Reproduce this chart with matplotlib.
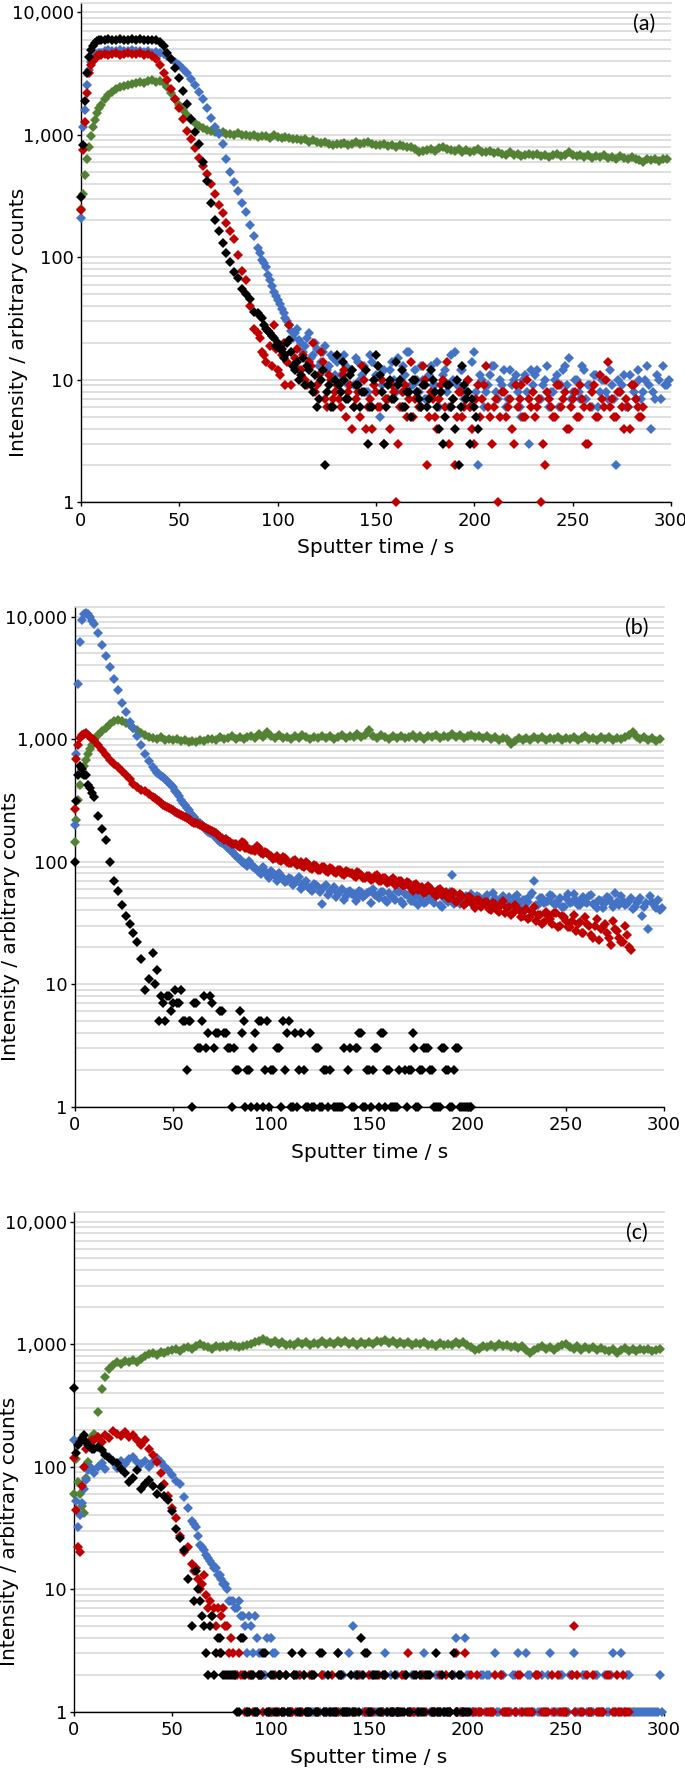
import numpy as np
import matplotlib
matplotlib.use("Agg")
import matplotlib.pyplot as plt
from matplotlib.ticker import LogLocator, FuncFormatter, NullFormatter

nan = np.nan

# sputter time grid (s): 1 s steps at the start, then 2 s steps
sputter_time = list(range(0, 10)) + list(range(10, 300, 2))
# the odd seconds, read only where the noisy tails need them
odd_time_a = list(range(91, 300, 2))
odd_time_b = list(range(41, 300, 2))
odd_time_c = list(range(61, 300, 2))

# ---- panel (a) ----
a_green = [
    250, 330, 470, 640, 800, 970, 1150, 1320, 1500, 1650,
    1750, 1950, 2100, 2250, 2350, 2450, 2500, 2550, 2600, 2650,
    2700, 2650, 2750, 2800, 2700, 2750, 2650, 2450, 2200, 1950,
    1750, 1600, 1450, 1330, 1250, 1180, 1130, 1100, 1070, 1060,
    1040, 1050, 1020, 1010, 1000, 1030, 990, 1000, 980, 1000,
    960, 980, 970, 950, 990, 960, 940, 960, 950, 930,
    920, 900, 920, 880, 900, 870, 860, 880, 840, 830,
    850, 840, 860, 830, 850, 870, 840, 860, 880, 850,
    830, 820, 840, 810, 830, 800, 820, 810, 790, 800,
    760, 720, 740, 750, 770, 740, 780, 800, 760, 750,
    740, 760, 730, 750, 720, 740, 760, 730, 720, 740,
    710, 730, 700, 690, 720, 680, 700, 670, 690, 700,
    680, 700, 670, 690, 660, 680, 700, 670, 690, 720,
    690, 670, 680, 660, 680, 650, 670, 660, 680, 650,
    660, 640, 670, 650, 630, 660, 640, 620, 600, 640,
    620, 640, 610, 630, 640]
a_blue = [
    210, 1160, 1590, 2560, 3390, 3900, 4200, 4400, 4550, 4650,
    4700, 4800, 4900, 4850, 4800, 4900, 4850, 4800, 4900, 4800,
    4850, 4750, 4800, 4700, 4750, 4650, 4600, 4400, 4200, 3900,
    3700, 3450, 3200, 2850, 2550, 2250, 1950, 1650, 1380, 1150,
    1020, 850, 640, 500, 410, 350, 280, 235, 185, 150,
    120, 95, 84, 65, 52, 45, 38, 32, 28, 22,
    26, 20, 19, 24, 16, 18, 14, 19, 13, 15,
    14, 11, 16, 9, 12, 15, 10, 13, 8, 14,
    11, 5, 12, 9, 14, 8, 10, 13, 17, 9,
    12, 8, 10, 7, 13, 9, 6, 11, 8, 16,
    17, 9, 12, 8, 6, 17, 2, 10, 8, 11,
    13, 7, 9, 6, 12, 10, 8, 5, 11, 3,
    9, 12, 7, 10, 6, 8, 11, 9, 13, 15,
    8, 10, 7, 12, 9, 6, 11, 8, 10, 7,
    9, 2, 8, 11, 6, 9, 7, 10, 8, 13,
    4, 7, 10, 13, 9]
a_blue_odd = [
    108, 90, 72, 58, 48, 42, 35, 30, 25, 24,
    21, 17, 22, 15, 20, 13, 17, 12, 16, 11,
    15, 10, 13, 12, 9, 14, 11, 8, 16, 10,
    13, 9, 7, 12, 10, 15, 8, 11, 17, 9,
    10, 13, 7, 11, 9, 14, 8, 12, 6, 10,
    9, 12, 7, 10, 14, 8, 11, 6, 9, 13,
    8, 10, 12, 7, 9, 11, 6, 10, 8, 12,
    11, 7, 9, 13, 8, 10, 6, 12, 9, 7,
    10, 8, 13, 7, 9, 11, 6, 10, 8, 12,
    7, 10, 9, 6, 11, 8, 12, 7, 10, 9,
    8, 11, 7, 9, 10]
a_red = [
    243, 750, 1280, 2200, 3200, 3700, 4000, 4200, 4400, 4500,
    4500, 4600, 4450, 4550, 4650, 4500, 4600, 4700, 4550, 4600,
    4650, 4500, 4600, 4400, 4200, 3700, 3200, 2800, 2350, 1950,
    1650, 1350, 1080, 920, 780, 650, 560, 480, 400, 330,
    270, 230, 190, 165, 140, 105, 78, 65, 40, 26,
    24, 17, 14, 19, 28, 12, 16, 9, 28, 13,
    18, 12, 10, 14, 20, 9, 17, 7, 11, 7,
    9, 6, 12, 8, 4, 7, 5, 10, 6, 4,
    8, 6, 3, 7, 9, 1, 6, 8, 5, 14,
    7, 6, 13, 2, 8, 5, 7, 10, 14, 6,
    2, 8, 5, 7, 6, 3, 9, 7, 13, 5,
    6, 1, 8, 5, 7, 3, 6, 9, 5, 7,
    8, 6, 1, 2, 7, 5, 9, 6, 8, 4,
    7, 5, 9, 6, 3, 8, 5, 11, 6, 14,
    7, 5, 8, 4, 6, 9, 7, 5, 6, nan,
    nan, nan, nan, nan, nan]
a_red_odd = [
    22, 16, 25, 13, 18, 11, 20, 14, 9, 15,
    12, 16, 9, 13, 8, 11, 14, 6, 10, 8,
    7, 11, 5, 9, 6, 8, 13, 4, 7, 9,
    6, 10, 7, 4, 8, 3, 6, 9, 7, 5,
    8, 6, 10, 5, 7, 4, 9, 6, 3, 7,
    5, 8, 6, 10, 4, 7, 5, 9, 6, 3,
    7, 5, 8, 6, 4, 9, 7, 5, 10, 6,
    5, 7, 3, 8, 6, 5, 9, 7, 4, 6,
    8, 5, 7, 3, 6, 9, 5, 7, 10, 6,
    5, 8, 6, 7, 4, 9, 6, 5, nan, nan,
    nan, nan, nan, nan, nan]
a_black = [
    310, 830, 1900, 3200, 4300, 4900, 5300, 5600, 5800, 5900,
    6000, 5900, 6050, 6000, 5950, 6100, 5900, 6000, 6050, 5950,
    6050, 6000, 5950, 6000, 5900, 5700, 5300, 4700, 4200, 3500,
    2900, 2300, 1800, 1350, 1050, 850, 600, 420, 280, 200,
    165, 130, 108, 92, 76, 68, 55, 50, 46, 36,
    35, 32, 26, 24, 22, 20, 18, 16, 21, 13,
    14, 11, 9, 12, 8, 6, 10, 2, 9, 6,
    16, 8, 10, 7, 12, 9, 6, 8, 3, 6,
    16, 11, 3, 9, 7, 14, 10, 6, 8, 5,
    10, 7, 9, 6, 12, 8, 4, 3, 9, 6,
    4, 2, 13, 7, 3, 6, 4, nan, nan, nan] + [nan] * 45
a_black_odd = [
    33, 28, 25, 23, 19, 18, 15, 20, 17, 12,
    10, 15, 13, 9, 11, 7, 12, 8, 6, 10,
    9, 14, 7, 11, 6, 9, 8, 12, 6, 10,
    13, 8, 6, 10, 7, 9, 12, 6, 8, 10,
    8, 6, 9, 7, 10, 6, 8, 5, 9, 7,
    10, 6, 9, 8, 7, 5, nan, nan, nan, nan] + [nan] * 45

# ---- panel (b) ----
b_green = [
    145, 219, 318, 420, 520, 600, 680, 760, 830, 900,
    1000, 1080, 1160, 1240, 1330, 1400, 1440, 1400, 1360, 1300,
    1240, 1180, 1130, 1080, 1050, 1030, 1010, 1040, 990, 1000,
    980, 1010, 960, 990, 950, 970, 940, 990, 960, 1000,
    1010, 980, 1040, 1000, 1020, 1060, 1010, 1050, 1000, 1040,
    1070, 1020, 1100, 1050, 1140, 1060, 1020, 1080, 1030, 1050,
    1010, 1060, 1030, 1080, 1040, 1000, 1050, 1020, 1070, 1030,
    1060, 1010, 1050, 1090, 1030, 1070, 1040, 1100, 1050, 1080,
    1180, 1060, 1030, 1080, 1040, 1010, 1060, 1030, 1070, 1020,
    1050, 1090, 1030, 1060, 1010, 1070, 1040, 1080, 1030, 1060,
    1040, 1100, 1050, 1080, 1020, 1060, 1090, 1040, 1070, 1030,
    1060, 1010, 1040, 990, 1030, 1000, 910, 970, 1020, 980,
    1030, 990, 1050, 1010, 1040, 980, 1020, 1000, 1050, 990,
    1030, 1000, 1040, 980, 1020, 1060, 1000, 1030, 990, 1040,
    1010, 1050, 990, 1030, 1000, 1040, 1090, 1140, 1050, 1010,
    1040, 980, 1020, 970, 1010]
b_blue = [
    200, 750, 2800, 6200, 9300, 10500, 10800, 10500, 10000, 9200,
    8700, 7400, 5900, 4800, 3900, 3100, 2500, 1960, 1650, 1380,
    1240, 1060, 900, 760, 660, 590, 530, 500, 470, 440,
    410, 360, 320, 290, 265, 240, 220, 205, 190, 175,
    170, 158, 145, 138, 128, 122, 112, 105, 98, 92,
    95, 88, 82, 90, 78, 84, 76, 80, 74, 70,
    72, 68, 75, 64, 70, 60, 66, 62, 45, 64,
    58, 62, 55, 60, 52, 58, 54, 50, 57, 53,
    56, 60, 52, 57, 49, 55, 51, 58, 48, 54,
    52, 48, 55, 50, 46, 53, 49, 56, 44, 50,
    47, 78, 52, 45, 50, 48, 54, 46, 51, 49,
    53, 46, 50, 44, 52, 48, 45, 51, 47, 49,
    46, 52, 69, 44, 50, 47, 53, 45, 48, 43,
    50, 46, 54, 44, 49, 47, 52, 45, 42, 48,
    46, 50, 43, 47, 52, 44, 48, 41, 46, 50,
    43, 28, 47, 42, 40]
b_blue_odd = [
    560, 515, 490, 455, 420, 380, 345, 300, 275, 250,
    230, 212, 198, 182, 172, 162, 150, 142, 133, 125,
    116, 108, 100, 95, 102, 90, 86, 79, 84, 74,
    80, 70, 77, 68, 73, 64, 71, 60, 67, 62,
    58, 65, 56, 62, 53, 59, 51, 56, 49, 57,
    54, 48, 58, 51, 55, 46, 53, 50, 57, 47,
    52, 49, 56, 45, 53, 48, 51, 44, 55, 47,
    50, 46, 53, 43, 49, 56, 45, 51, 47, 52,
    48, 44, 52, 46, 50, 43, 55, 47, 49, 45,
    51, 46, 53, 42, 49, 47, 55, 44, 50, 46,
    48, 52, 45, 50, 43, 54, 47, 49, 44, 51,
    46, 53, 45, 49, 42, 51, 47, 55, 44, 48,
    45, 50, 43, 48, 36, 46, 52, 44, 49, 42]
b_red = [
    270, 690, 900, 1030, 1080, 1100, 1120, 1080, 1050, 1010,
    980, 900, 820, 740, 680, 630, 590, 550, 510, 470,
    430, 405, 385, 375, 355, 340, 320, 300, 285, 275,
    262, 250, 240, 232, 222, 212, 205, 198, 190, 184,
    178, 172, 160, 150, 148, 140, 138, 132, 142, 128,
    125, 122, 130, 115, 118, 112, 108, 104, 110, 100,
    98, 104, 95, 92, 99, 88, 94, 86, 90, 84,
    88, 82, 85, 79, 84, 80, 76, 83, 78, 74,
    76, 72, 78, 70, 74, 68, 73, 66, 70, 64,
    67, 58, 66, 61, 55, 63, 57, 52, 60, 54,
    50, 57, 47, 54, 44, 51, 48, 42, 49, 45,
    47, 40, 45, 39, 48, 42, 37, 44, 40, 36,
    41, 35, 43, 37, 31, 39, 34, 38, 29, 36,
    33, 29, 37, 31, 26, 35, 30, 24, 34, 28,
    31, 24, 33, 27, 22, 30, 20, nan, nan, nan,
    nan, nan, nan, nan, nan]
b_red_odd = [
    330, 310, 292, 280, 268, 256, 245, 236, 227, 217,
    208, 201, 194, 187, 181, 175, 166, 155, 152, 144,
    139, 135, 145, 130, 127, 124, 135, 117, 120, 114,
    106, 112, 102, 107, 97, 101, 93, 100, 91, 96,
    87, 92, 85, 90, 82, 87, 80, 86, 78, 83,
    81, 75, 80, 73, 77, 71, 76, 69, 74, 67,
    71, 65, 69, 63, 68, 61, 64, 59, 62, 57,
    61, 55, 59, 53, 57, 50, 55, 49, 52, 46,
    51, 45, 49, 43, 47, 41, 46, 40, 44, 38,
    43, 38, 41, 35, 40, 34, 39, 33, 37, 32,
    36, 31, 38, 30, 35, 29, 33, 27, 32, 26,
    31, 25, 30, 23, 29, 26, 21, 28, 24, 22,
    25, 19, nan, nan, nan, nan, nan, nan, nan, nan]
b_black = [
    100, 310, 510, 600, 570, 510, 510, 423, 400, 360,
    340, 235, 185, 150, 100, 70, 58, 44, 36, 31,
    26, 22, 16, 9, 11, 18, 13, 8, 5, 8,
    7, 7, 9, 5, 5, 1, 7, 3, 8, 4,
    7, 4, 6, 4, 3, 1, 2, 6, 5, 2,
    1, 4, 5, 1, 5, 2, nan, 3, 5, 4,
    1, 4, 2, nan, 1, 4, 1, 3, 1, 2,
    2, 1, 1, 1, nan, 3, 1, 3, 4, 1,
    2, 2, 3, 4, 1, 2, 1, 1, nan, 2,
    2, 4, 1, 2, 3, 3, 2, 1, 1, 3,
    2, 1, 3, 1, 1, 1, 1, nan, nan, nan] + [nan] * 45
b_black_odd = [
    10, 5, 7, 8, 6, 9, 7, 5, 2, 5,
    7, 3, 5, 3, 8, 3, 4, 6, 4, 3,
    3, 2, 4, 1, 2, 3, 1, 5, 2, 1,
    2, 3, 1, 2, 5, 1, 1, 4, 2, 1,
    1, 3, 1, 2, 1, nan, 1, 1, 3, 2,
    1, 3, 4, 1, 2, 1, 3, 1, 4, 2,
    1, 1, 2, nan, 1, 2, 3, 1, 2, 3,
    2, 1, 1, 3, 2, 1, 2, 3, 1, 1,
    1] + [nan] * 49

# ---- panel (c) ----
c_green = [
    60, 115, 75, 60, 48, 42, 80, 110, 150, 175,
    185, 280, 430, 540, 630, 675, 720, 690, 730, 710,
    740, 720, 760, 800, 830, 850, 820, 860, 840, 870,
    900, 920, 880, 930, 950, 910, 960, 1010, 970, 940,
    920, 960, 940, 970, 950, 980, 960, 940, 970, 990,
    1000, 1030, 1060, 1090, 1050, 1020, 1060, 1000, 1040, 990,
    1010, 980, 1030, 1000, 1040, 990, 1020, 1000, 1050, 1010,
    1030, 1000, 1050, 1020, 1060, 1010, 1040, 990, 1030, 1010,
    1040, 1000, 1060, 1030, 1070, 1020, 1050, 1000, 1040, 1010,
    1030, 990, 1020, 1000, 1040, 980, 1010, 970, 1020, 990,
    1010, 980, 1030, 1000, 1040, 990, 950, 900, 920, 960,
    940, 980, 950, 1000, 960, 990, 940, 970, 930, 960,
    890, 850, 900, 930, 960, 920, 950, 900, 940, 980,
    1000, 950, 920, 960, 900, 940, 910, 950, 890, 930,
    900, 870, 920, 850, 890, 930, 870, 910, 880, 920,
    890, 920, 880, 900, 910]
c_blue = [
    165, 52, 32, 40, 50, 65, 78, 94, 100, 96,
    88, 100, 106, 95, 120, 108, 98, 112, 104, 115,
    120, 110, 104, 112, 100, 108, 118, 110, 102, 94,
    86, 76, 72, 56, 46, 36, 32, 23, 21, 18,
    16, 15, 13, 11, 10, 8, 7, 8, 6, 3,
    5, 6, 3, 2, 4, 4, 3, 2, 1, nan,
    1, nan, 2, 1, nan, 1, 1, nan, 2, 1,
    nan, 1, 3, 1, nan, 3, 5, 1, 2, 1,
    1, 2, 1, nan, 3, 1, 1, 2, 1, nan,
    1, 2, 1, 1, 3, nan, 1, 2, 1, 1,
    1, 2, 4, 1, 1, 2, 1, nan, 1, 2,
    2, 1, 3, 1, 2, 1, 1, 2, 3, 1,
    3, 2, 1, 1, 2, 1, 3, 1, 1, 2,
    1, 2, 3, 1, 1, 2, 1, 1, 2, 1,
    2, 1, 3, 1, 3, 1, 2, 1, 1, 1,
    1, 1, 1, 1, 2]
c_blue_odd = [
    34, 27, 22, 19, 17, 15, 13, 12, 11, 8,
    8, 7, 6, 5, 6, 3, 4, 3, 2, 1,
    3, 1, 2, nan, 1, 1, nan, 1, 2, 1,
    1, nan, 1, 2, 1, nan, 1, 1, 2, 1,
    1, 2, nan, 1, 1, 2, 1, nan, 1, 1,
    2, 1, 1, nan, 2, 1, 1, 1, 2, nan,
    1, 1, 2, 1, nan, 1, 2, 1, 1, 4,
    2, 1, 1, 2, 1, 2, 1, 1, 2, 1,
    1, 2, 1, 1, 1, 2, 1, 2, 1, 1,
    2, 1, 1, 2, 1, 1, 2, 1, 1, 2,
    1, 1, 2, 1, 1, 1, 2, 1, 1, 1,
    2, 1, 1, 1, 1, 1, 1, 1, 1, 1]
c_red = [
    117, 44, 22, 20, 70, 100, 140, 155, 160, 165,
    165, 175, 160, 180, 170, 195, 185, 178, 190, 175,
    180, 165, 150, 165, 140, 125, 108, 88, 72, 58,
    46, 38, 27, 20, 22, 16, 15, 10, 13, 7,
    6, 5, 3, 7, 5, 4, 2, 3, 2, 1,
    2, 1, 2, 1, nan, 1, 2, 1, 1, 2,
    1, 2, nan, 1, 1, 2, nan, 1, 2, 1,
    1, nan, 1, 2, 1, nan, 1, 2, nan, 1,
    2, 1, nan, 1, 2, nan, 1, 1, nan, 2,
    3, 1, nan, 1, 2, nan, 1, 1, 2, nan,
    1, 2, 3, nan, 1, nan, 2, 1, 1, nan,
    1, 1, 2, nan, 1, 1, nan, 1, 2, 1,
    1, 1, nan, 2, 1, 1, nan, 1, 2, 1,
    1, nan, 5, 2, 1, nan, 1, 2, 1, 1,
    nan, 2, 1, 2, 1, 1, 1, nan, nan, nan,
    nan, nan, nan, nan, nan]
c_red_odd = [
    14, 12, 11, 9, 8, 7, 7, 6, 5, 3,
    3, 2, 2, 1, 2, 1, 1, 2, nan, 1,
    1, nan, 2, 1, nan, 1, 1, 2, nan, 1,
    2, 1, nan, 1, nan, 2, 1, nan, 1, 1,
    nan, 1, 2, nan, 1, 1, nan, 2, 1, nan,
    1, nan, 1, 2, nan, 1, 1, nan, 2, 1,
    nan, 1, 1, nan, 2, 1, nan, 1, 1, 3,
    nan, 1, 2, 1, nan, 1, 1, nan, 2, 1,
    1, nan, 1, 2, nan, 1, 1, 2, nan, 1,
    1, 2, nan, 1, 1, nan, 2, 1, nan, 1,
    2, 1, nan, 1, 1, 2, nan, 1, 1, 2,
    1, nan, nan, nan, nan, nan, nan, nan, nan, nan]
c_black = [
    440, 128, 150, 160, 170, 181, 160, 150, 145, 140,
    138, 145, 136, 125, 118, 112, 106, 95, 88, 75,
    80, 94, 66, 72, 78, 70, 60, 68, 58, 53,
    43, 31, 26, 21, 12, 5, 14, 8, 5, 2,
    6, 3, 4, 2, 2, 2, 2, 1, 4, 1,
    2, 1, 2, 3, 1, 2, 1, 2, 1, 2,
    1, 2, 1, 3, 1, 1, 2, 1, 3, 1,
    1, 1, 3, 2, 1, 1, 1, 2, 4, 3,
    1, 2, 2, 1, 2, nan, 1, 1, 1, 1,
    1, nan, 2, 2, 1, 2, 1, 3, 1, 1,
    1, 2, 1, 2, 1, 1, nan, nan, nan, nan] + [nan] * 45
c_black_odd = [
    8, 10, 6, 3, 5, 2, 4, 3, 2, 2,
    2, 1, 4, 2, 1, 2, 1, 2, 3, 1,
    2, 1, 2, 1, 1, 3, 2, 1, 2, 1,
    2, 1, 3, 1, 2, 1, 1, 2, 1, 1,
    2, 1, 1, 2, 3, 1, 2, 1, 2, 1,
    1, 2, 1, 1, 2, 1, 2, 1, 1, 2,
    2, 1, 1, 2, 1, 1, 3, 1, 2, 1,
    1] + [nan] * 49

GREEN = '#548235'
BLUE = '#4472C4'
RED = '#C00000'
BLACK = '#000000'
GRID = '#d6d6d6'

y_ticks = [1, 10, 100, 1000, 10000]
x_ticks = [0, 50, 100, 150, 200, 250, 300]


def draw_panel(ax, series, letter, ylabel_x):
    # green first, black last (on top)
    for times, vals, color in series:
        assert len(times) == len(vals)
        ax.plot(times, vals, linestyle='none', marker='D', ms=4.6,
                mfc=color, mec=color, mew=0, zorder=3, clip_on=False)
    ax.set_yscale('log')
    ax.set_ylim(1, 12000)
    ax.set_xlim(0, 300)
    ax.set_yticks(y_ticks)
    ax.yaxis.set_major_formatter(FuncFormatter(lambda v, p: f"{v:,.0f}"))
    ax.yaxis.set_minor_locator(LogLocator(base=10, subs=np.arange(2, 10)))
    ax.yaxis.set_minor_formatter(NullFormatter())
    ax.set_xticks(x_ticks)
    ax.grid(True, which='both', axis='y', color=GRID, lw=1.1)
    ax.set_axisbelow(True)
    ax.spines['right'].set_visible(False)
    # top edge of the plot area shows as one more light grid line
    ax.spines['top'].set_color(GRID)
    ax.spines['top'].set_linewidth(1.1)
    for s in ['left', 'bottom']:
        ax.spines[s].set_color('#000000')
        ax.spines[s].set_linewidth(1.0)
    ax.tick_params(which='minor', length=0)
    ax.tick_params(which='major', direction='out', length=3, width=1,
                   labelsize=13, colors='#000000')
    ax.tick_params(axis='x', pad=4)
    ax.tick_params(axis='y', pad=2)
    ax.set_xlabel('Sputter time / s', fontsize=14.5)
    ax.set_ylabel('Intensity / arbitrary counts', fontsize=14.5)
    ax.xaxis.set_label_coords(0.5, -0.072)
    # the axis title sits below the middle of the plot area
    ax.yaxis.set_label_coords(ylabel_x, 0.36)
    ax.text(0.954, 0.958, letter, transform=ax.transAxes, ha='center',
            va='center', fontsize=15.5, family='Lato')


fig = plt.figure(figsize=(6.85, 17.72), dpi=100)
ax_a = fig.add_axes([0.1182, 0.7165, 0.8613, 0.2820])
ax_b = fig.add_axes([0.1088, 0.3755, 0.8606, 0.2820])
ax_c = fig.add_axes([0.1080, 0.0341, 0.8613, 0.2820])

t = sputter_time
draw_panel(ax_a, [(t, a_green, GREEN), (t, a_blue, BLUE), (odd_time_a, a_blue_odd, BLUE),
                  (t, a_red, RED), (odd_time_a, a_red_odd, RED),
                  (t, a_black, BLACK), (odd_time_a, a_black_odd, BLACK)], '(a)', -0.090)
draw_panel(ax_b, [(t, b_green, GREEN), (t, b_blue, BLUE), (odd_time_b, b_blue_odd, BLUE),
                  (t, b_red, RED), (odd_time_b, b_red_odd, RED),
                  (t, b_black, BLACK), (odd_time_b, b_black_odd, BLACK)], '(b)', -0.093)
draw_panel(ax_c, [(t, c_green, GREEN), (t, c_blue, BLUE), (odd_time_c, c_blue_odd, BLUE),
                  (t, c_red, RED), (odd_time_c, c_red_odd, RED),
                  (t, c_black, BLACK), (odd_time_c, c_black_odd, BLACK)], '(c)', -0.093)

fig.savefig('out.png', dpi=100)
